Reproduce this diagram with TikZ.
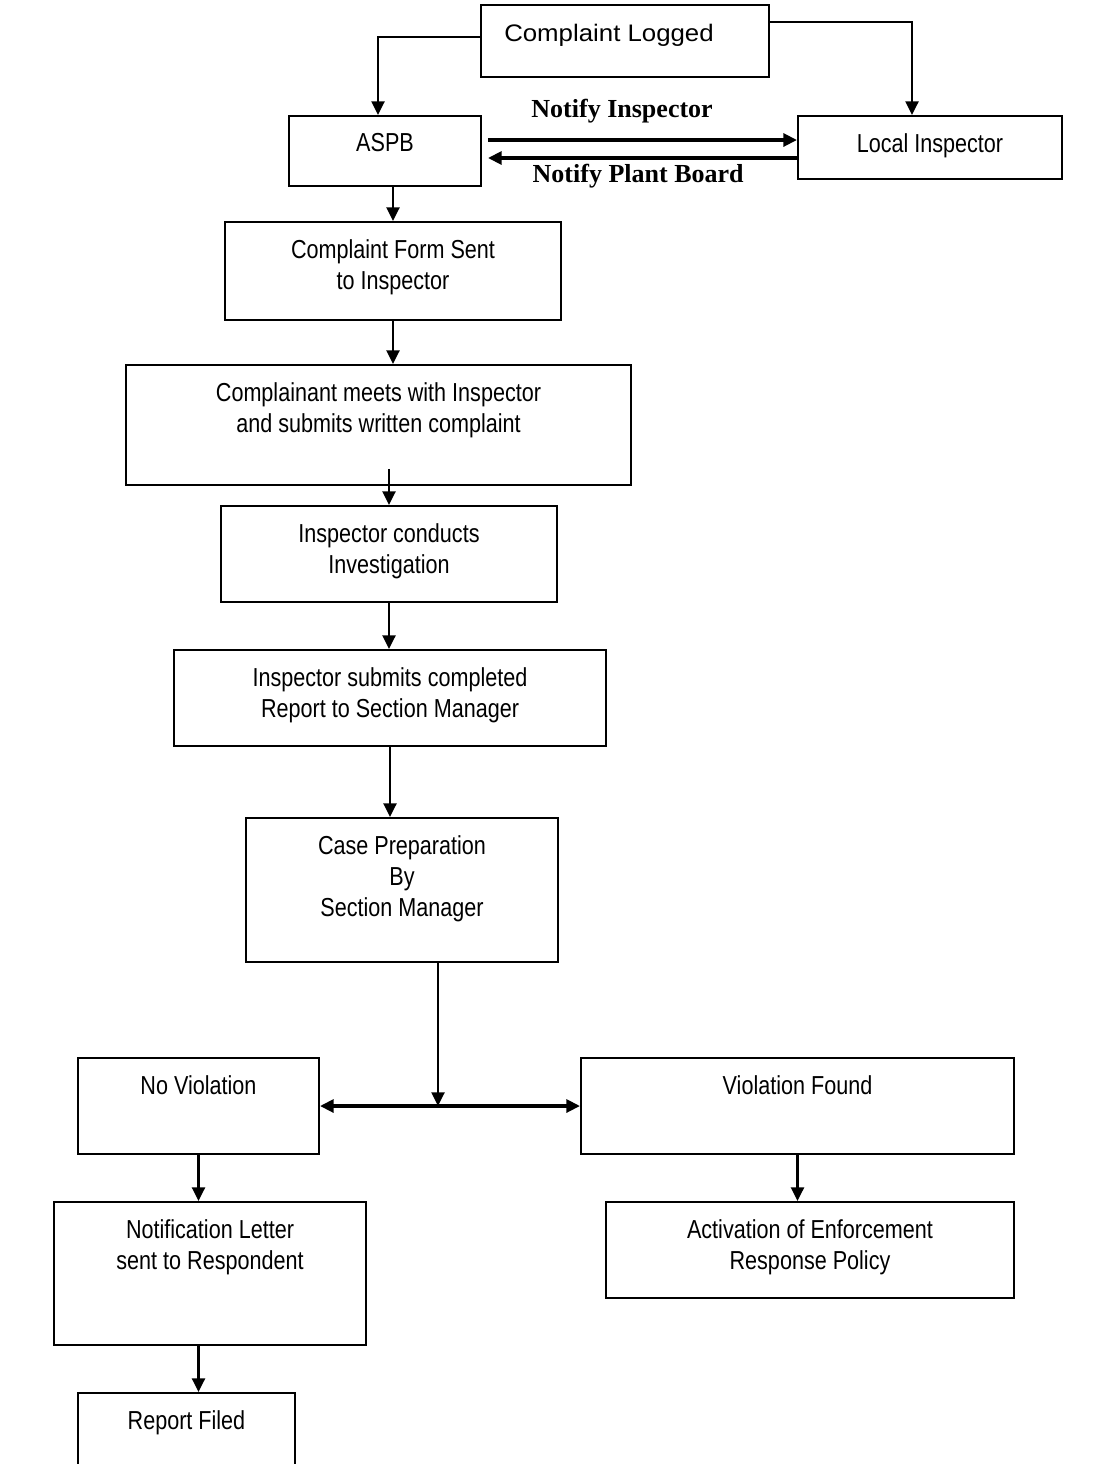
\documentclass[tikz,border=0pt]{standalone}
\usepackage{fontspec}
\setmainfont{Liberation Serif}
\newfontfamily\narrowfont[FakeStretch=0.83]{Liberation Sans}
\newfontfamily\widefont[FakeStretch=1.08]{Liberation Sans}
\usetikzlibrary{positioning, arrows.meta}
\tikzstyle{process} = [rectangle, draw=black, line width=1.4pt, inner sep=0pt]
\tikzstyle{words} = [align=center, inner sep=0pt, font=\narrowfont\fontsize{18.5}{22}\selectfont]
\tikzstyle{notify} = [inner sep=0pt, font=\bfseries\fontsize{18.5}{22}\selectfont]
\tikzstyle{arrow} = [line width=1.9pt, ->, >={Triangle[length=3.4mm,width=3.2mm]}]
\tikzstyle{thickarrow} = [line width=2.4pt, ->, >={Triangle[length=3.4mm,width=3.2mm]}]

\begin{document}
\begin{tikzpicture}
\useasboundingbox (0,0) rectangle (27.725,-36.6);
\node (log) [process, minimum width=7.2cm, minimum height=1.8cm] at (15.625,-1.025) {};
\node (aspb) [process, minimum width=4.8cm, minimum height=1.75cm] at (9.625,-3.775) {};
\node (local) [process, minimum width=6.6cm, minimum height=1.575cm] at (23.25,-3.6875) {};
\node (form) [process, minimum width=8.4cm, minimum height=2.45cm] at (9.825,-6.775) {};
\node (meets) [process, minimum width=12.625cm, minimum height=3cm] at (9.4625,-10.625) {};
\node (conduct) [process, minimum width=8.4cm, minimum height=2.4cm] at (9.725,-13.85) {};
\node (report) [process, minimum width=10.8cm, minimum height=2.4cm] at (9.75,-17.45) {};
\node (caseprep) [process, minimum width=7.8cm, minimum height=3.6cm] at (10.05,-22.25) {};
\node (noviol) [process, minimum width=6.025cm, minimum height=2.4cm] at (4.9625,-27.65) {};
\node (viol) [process, minimum width=10.825cm, minimum height=2.4cm] at (19.9375,-27.65) {};
\node (letter) [process, minimum width=7.8cm, minimum height=3.575cm] at (5.25,-31.8375) {};
\node (enforce) [process, minimum width=10.2cm, minimum height=2.4cm] at (20.25,-31.25) {};
\node (filed) [process, minimum width=5.425cm, minimum height=2.4cm] at (4.6625,-36.025) {};

\node (logt) [words, font=\widefont\fontsize{17}{22}\selectfont, below=4.9mm of log.north, xshift=-4mm] {Complaint Logged};
\node (aspbt) [words, below=4.6mm of aspb.north] {ASPB};
\node (localt) [words, below=4.6mm of local.north] {Local Inspector};
\node (formt) [words, below=4.6mm of form.north] {Complaint Form Sent\\to Inspector};
\node (meetst) [words, below=4.6mm of meets.north] {Complainant meets with Inspector\\and submits written complaint};
\node (conductt) [words, below=4.6mm of conduct.north] {Inspector conducts\\Investigation};
\node (reportt) [words, below=4.6mm of report.north] {Inspector submits completed\\Report to Section Manager};
\node (caseprept) [words, below=4.6mm of caseprep.north] {Case Preparation\\By\\Section Manager};
\node (noviolt) [words, below=4.6mm of noviol.north] {No Violation};
\node (violt) [words, below=4.6mm of viol.north] {Violation Found};
\node (lettert) [words, below=4.6mm of letter.north] {Notification Letter\\sent to Respondent};
\node (enforcet) [words, below=4.6mm of enforce.north] {Activation of Enforcement\\Response Policy};
\node (filedt) [words, below=4.6mm of filed.north] {Report Filed};

\coordinate (nistart) at ([xshift=1.5mm,yshift=2.75mm]aspb.east);
\coordinate (pbstart) at ([yshift=-2.625mm]local.west);
\coordinate (mid1) at (meets.south -| conduct.north);
\coordinate (split) at (10.95,-27.65);

\draw [arrow] ([yshift=1mm]log.west) -| ([xshift=-1.75mm]aspb.north);
\draw [arrow] ([yshift=4.75mm]log.east) -| ([xshift=-4.5mm]local.north);
\draw [thickarrow] (nistart) -- (nistart -| local.west) node (ni) [notify, pos=0.434, above=3.75mm] {Notify Inspector};
\draw [thickarrow] (pbstart) -- (pbstart -| nistart) node (pb) [notify, pos=0.514, below=1mm] {Notify Plant Board};
\draw [arrow] (aspb.south -| form.north) -- (form.north);
\draw [arrow] (form.south) -- (form.south |- meets.north);
\draw [arrow] ([yshift=4.25mm]mid1) -- (conduct.north);
\draw [arrow] (conduct.south) -- (conduct.south |- report.north);
\draw [arrow] (report.south) -- (report.south |- caseprep.north);
\draw [arrow] (split |- caseprep.south) -- (split);
\draw [thickarrow, <->] (noviol.east) -- (viol.west);
\draw [arrow] (noviol.south) -- (noviol.south |- letter.north);
\draw [arrow] (noviol.south |- letter.south) -- (noviol.south |- filed.north);
\draw [arrow] (viol.south) -- (viol.south |- enforce.north);
\end{tikzpicture}
\end{document}
